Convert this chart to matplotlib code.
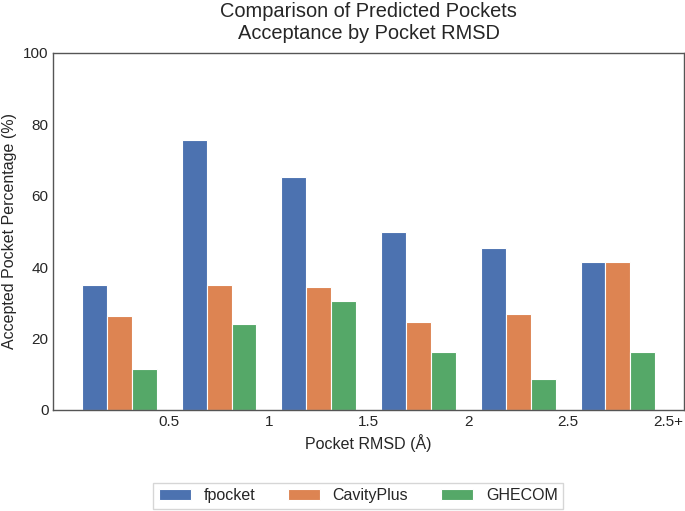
import numpy as np
import matplotlib
matplotlib.use("Agg")
import matplotlib.pyplot as plt
import seaborn as sns

# Data
rmsd_labels = ["0.5", "1", "1.5", "2", "2.5", "2.5+"]
fpocket = [35.0, 75.6, 65.2, 49.7, 45.2, 41.4]
cavityplus = [26.3, 34.9, 34.3, 24.6, 27.0, 41.4]
ghecom = [11.4, 24.1, 30.4, 16.3, 8.8, 16.3]

methods = {"fpocket": fpocket, "CavityPlus": cavityplus, "GHECOM": ghecom}

sns.set_style("white")
plt.rcParams["font.family"] = ["Liberation Sans", "DejaVu Sans"]
colors = sns.color_palette("deep", 3)

fig = plt.figure(figsize=(6.85, 5.11), dpi=100)
ax = fig.add_axes([0.0778, 0.1977, 0.9207, 0.6992])

x = np.arange(len(rmsd_labels))
width = 0.25
for i, (name, vals) in enumerate(methods.items()):
    ax.bar(x + (i - 1) * width, vals, width, color=colors[i], edgecolor="white",
           linewidth=0.8, label=name)

ax.set_ylim(0, 100)
ax.set_xticks(x + 0.5)
ax.set_xticklabels(rmsd_labels, fontsize=11)
ax.set_yticks(np.arange(0, 101, 20))
ax.tick_params(axis="y", labelsize=11)
ax.tick_params(length=0)
ax.set_xlabel("Pocket RMSD (Å)", fontsize=11.5, labelpad=4)
ax.set_ylabel("Accepted Pocket Percentage (%)", fontsize=11.5)
ax.set_title("Comparison of Predicted Pockets\nAcceptance by Pocket RMSD", fontsize=14.4, pad=10)
for sp in ax.spines.values():
    sp.set_color("#555555")
    sp.set_linewidth(1.0)

fig.legend(loc="lower center", bbox_to_anchor=(0.523, 0.004), ncol=3, fontsize=11.5,
           frameon=True, edgecolor="#cccccc", fancybox=False, columnspacing=2.05,
           borderaxespad=0.0, borderpad=0.35)

fig.savefig("out.png", dpi=100)
